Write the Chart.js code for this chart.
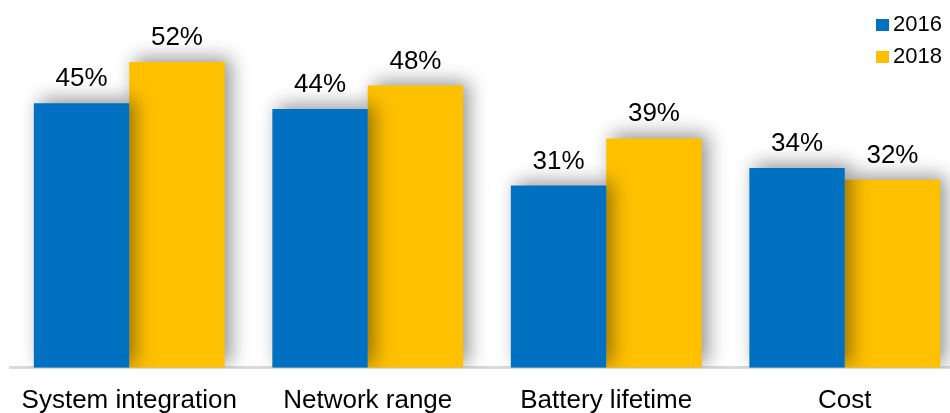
<!DOCTYPE html>
<html>
<head>
<meta charset="utf-8">
<script src="https://cdn.jsdelivr.net/npm/chart.js@4/dist/chart.umd.min.js"></script>
<style>
    html, body { margin: 0; padding: 0; background: #fff; overflow: hidden; }
    #moldura { position: relative; width: 950px; height: 413px; overflow: hidden; }
    #caixa { position: absolute; left: 0; top: 0; width: 964px; height: 437px; }
    #legenda { position: absolute; left: 876px; top: 8px; font-family: Arial, "Liberation Sans", sans-serif; font-size: 22px; color: #000; }
    #legenda div { height: 32px; line-height: 32px; white-space: nowrap; }
    #legenda span { display: inline-block; width: 13px; height: 12px; margin-right: 4px; vertical-align: 0px; }
</style>
</head>
<body>
<div id="moldura">
    <div id="caixa"><canvas id="graficoBarras"></canvas></div>
    <div id="legenda">
        <div><span style="background:#0070C0"></span>2016</div>
        <div><span style="background:#FFC000"></span>2018</div>
    </div>
</div>
<script>
const categorias = ['System integration', 'Network range', 'Battery lifetime', 'Cost'];
const valores2016 = [45, 44, 31, 34];
const valores2018 = [52, 48, 39, 32];
const anos = ['2016', '2018'];

const CORES = {
    azul: '#0070C0',
    amarelo: '#FFC000'
};

// sombra das barras + rótulos de valor
const sombraERotulos = {
    id: 'sombraERotulos',
    beforeDatasetsDraw(chart) {
        const ctx = chart.ctx;
        ctx.save();
        ctx.shadowColor = 'rgba(0, 0, 0, 0.42)';
        ctx.shadowBlur = 18;
        ctx.shadowOffsetX = 6;
        ctx.shadowOffsetY = -4;
    },
    afterDatasetsDraw(chart) {
        const ctx = chart.ctx;
        ctx.restore();
        ctx.save();
        ctx.font = '26px Arial, "Liberation Sans", sans-serif';
        ctx.fillStyle = '#000';
        ctx.textAlign = 'center';
        ctx.textBaseline = 'alphabetic';
        chart.data.datasets.forEach(function(ds, i) {
            chart.getDatasetMeta(i).data.forEach(function(barra, j) {
                ctx.fillText(ds.data[j] + '%', barra.x, barra.y - 17);
            });
        });
        ctx.restore();
    }
};

document.addEventListener('DOMContentLoaded', function() {
    const ctx = document.getElementById('graficoBarras');

    new Chart(ctx.getContext('2d'), {
        type: 'bar',
        data: {
            labels: categorias,
            datasets: [
                {
                    label: anos[0],
                    data: valores2016,
                    backgroundColor: CORES.azul,
                    borderWidth: 0,
                    categoryPercentage: 0.8,
                    barPercentage: 1
                },
                {
                    label: anos[1],
                    data: valores2018,
                    backgroundColor: CORES.amarelo,
                    borderWidth: 0,
                    categoryPercentage: 0.8,
                    barPercentage: 1
                }
            ]
        },
        options: {
            responsive: true,
            maintainAspectRatio: false,
            animation: false,
            layout: {
                padding: { left: 10, right: 0, top: 15, bottom: 4 }
            },
            scales: {
                y: {
                    display: false,
                    min: 0,
                    max: 60
                },
                x: {
                    grid: { display: false, drawTicks: false },
                    border: { display: true, color: '#d9d9d9', width: 3 },
                    ticks: {
                        color: '#000',
                        padding: 17,
                        font: { family: 'Arial, "Liberation Sans", sans-serif', size: 26 }
                    }
                }
            },
            plugins: {
                legend: { display: false },
                tooltip: { enabled: false }
            }
        },
        plugins: [sombraERotulos]
    });
});
</script>
</body>
</html>
